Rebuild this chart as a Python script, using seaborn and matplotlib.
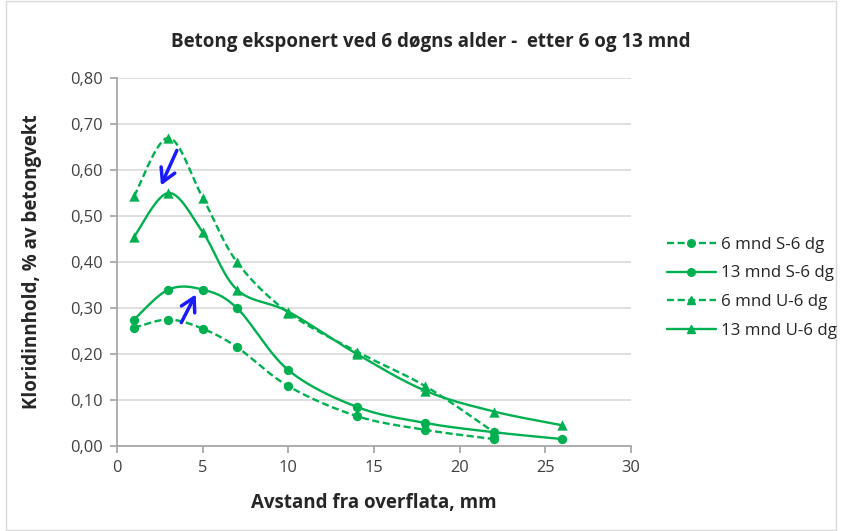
import numpy as np
import pandas as pd
import matplotlib
matplotlib.use("Agg")
import matplotlib.pyplot as plt
import seaborn as sns

title = "Betong eksponert ved 6 døgns alder -  etter 6 og 13 mnd"
xlabel = "Avstand fra overflata, mm"
ylabel = "Kloridinnhold, % av betongvekt"

x_s6 = [1, 3, 5, 7, 10, 14, 18, 22]
y_s6 = [0.257, 0.275, 0.255, 0.215, 0.130, 0.065, 0.035, 0.015]
x_s13 = [1, 3, 5, 7, 10, 14, 18, 22, 26]
y_s13 = [0.275, 0.340, 0.340, 0.300, 0.165, 0.085, 0.050, 0.030, 0.015]
x_u6 = [1, 3, 5, 7, 10, 14, 18, 22]
y_u6 = [0.543, 0.670, 0.540, 0.400, 0.290, 0.205, 0.130, 0.030]
x_u13 = [1, 3, 5, 7, 10, 14, 18, 22, 26]
y_u13 = [0.455, 0.550, 0.465, 0.340, 0.292, 0.200, 0.120, 0.075, 0.045]

labels = ["6 mnd S-6 dg", "13 mnd S-6 dg", "6 mnd U-6 dg", "13 mnd U-6 dg"]
xs = [x_s6, x_s13, x_u6, x_u13]
ys = [y_s6, y_s13, y_u6, y_u13]
markers = ["o", "o", "^", "^"]
styles = ["--", "-", "--", "-"]

GREEN = "#00B050"

sns.set_theme(style="white")
plt.rcParams["font.family"] = ["Open Sans", "DejaVu Sans"]

def smooth(x, y, n=30):
    # Excel-style smoothed line (cubic Bezier / Catmull-Rom)
    P = np.column_stack([x, y]).astype(float)
    out = []
    m = len(P)
    for i in range(m - 1):
        p0 = P[i - 1] if i > 0 else P[i]
        p1 = P[i]
        p2 = P[i + 1]
        p3 = P[i + 2] if i + 2 < m else P[i + 1]
        c1 = p1 + (p2 - p0) / 6.0
        c2 = p2 - (p3 - p1) / 6.0
        t = np.linspace(0, 1, n)[:, None]
        seg = ((1 - t) ** 3) * p1 + 3 * ((1 - t) ** 2) * t * c1 + 3 * (1 - t) * t ** 2 * c2 + t ** 3 * p2
        out.append(seg if i == 0 else seg[1:])
    s = np.vstack(out)
    return s[:, 0], s[:, 1]

fig = plt.figure(figsize=(8.42, 5.31), dpi=100)
ax = fig.add_axes([117 / 842, 1 - 446 / 531, (631 - 117) / 842, (446 - 78) / 531])

handles = []
for x, y, mk, ls, lab in zip(xs, ys, markers, styles, labels):
    sx, sy = smooth(x, y)
    ax.plot(sx, sy, color=GREEN, lw=1.7, ls=ls, dashes=(3, 1.5) if ls == "--" else (None, None), zorder=3)
    df = pd.DataFrame({"x": x, "y": y})
    sns.scatterplot(data=df, x="x", y="y", marker=mk, color=GREEN, s=45 if mk == "o" else 55,
                    edgecolor=GREEN, linewidth=0, ax=ax, zorder=4)
    h, = ax.plot([], [], color=GREEN, lw=1.7, ls=ls, marker=mk, markersize=5.5,
                 dashes=(3, 1.5) if ls == "--" else (None, None))
    handles.append(h)

ax.set_xlim(0, 30)
ax.set_ylim(0, 0.8)
ax.set_xticks(np.arange(0, 31, 5))
ax.set_yticks(np.arange(0, 0.81, 0.1))
ax.set_yticklabels([f"{v:.2f}".replace(".", ",") for v in np.arange(0, 0.81, 0.1)])
ax.yaxis.grid(True, color="#d9d9d9", lw=1.2)
ax.xaxis.grid(False)
for side in ["top", "right"]:
    ax.spines[side].set_visible(False)
ax.spines["left"].set_color("#a6a6a6")
ax.spines["bottom"].set_color("#a6a6a6")
ax.tick_params(axis="both", which="major", length=5, color="#a6a6a6", direction="out",
               labelsize=11.8, labelcolor="#404040", bottom=True, left=True, pad=5)
ax.set_xlabel(xlabel, fontsize=13.5, fontweight="bold", color="#262626", labelpad=12)
ax.set_ylabel(ylabel, fontsize=13.5, fontweight="bold", color="#262626")
ax.yaxis.set_label_coords((42 - 117) / 514, 0.5)
fig.text(431 / 842, 1 - 42 / 531, title, fontsize=13.5, fontweight="bold", color="#262626",
         ha="center", va="center")

ax.annotate("", xy=(2.5, 0.561), xytext=(3.56, 0.648),
            arrowprops=dict(arrowstyle="->,head_length=0.8,head_width=0.45", color="#1a1aff", lw=2.5), zorder=6)
ax.annotate("", xy=(4.67, 0.335), xytext=(3.68, 0.263),
            arrowprops=dict(arrowstyle="->,head_length=0.8,head_width=0.45", color="#1a1aff", lw=2.5), zorder=6)

leg = fig.legend(handles, labels, loc="upper left", bbox_to_anchor=(660 / 842, 1 - 230 / 531),
                 frameon=False, fontsize=12.2, handlelength=2.9, labelspacing=0.75,
                 handletextpad=0.3, borderaxespad=0)
for t in leg.get_texts():
    t.set_color("#262626")

fig.patches.append(plt.Rectangle((6 / 842, 0.002), 1 - 12 / 842, 0.996, transform=fig.transFigure,
                                 fill=False, edgecolor="#d9d9d9", lw=1))

fig.savefig("out.png", dpi=100)
